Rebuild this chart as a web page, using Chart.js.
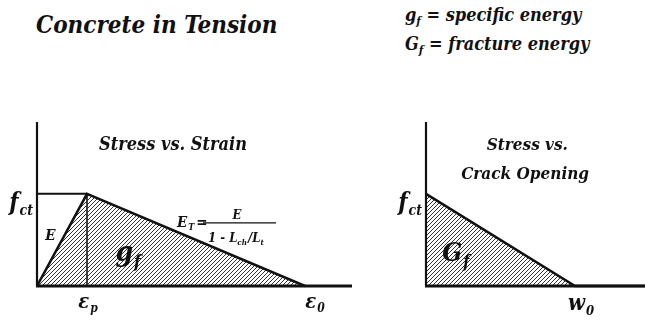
<!DOCTYPE html>
<html><head><meta charset="utf-8">
<script src="https://cdn.jsdelivr.net/npm/chart.js@4.4.0/dist/chart.umd.min.js"></script>
<style>
html,body{margin:0;padding:0;background:#fff;width:645px;height:323px;overflow:hidden}
.t{position:absolute;font-family:"DejaVu Serif Condensed","DejaVu Serif",serif;font-style:italic;font-weight:bold;color:#111;white-space:nowrap;line-height:1}
.t sub{font-size:65%;vertical-align:-0.3em;line-height:0}
#c1{position:absolute;left:0;top:100px}
#c2{position:absolute;left:370px;top:100px}
</style></head><body>
<div class="t" style="left:36px;top:13px;font-size:24px">Concrete in Tension</div>
<div class="t" style="left:405px;top:6px;font-size:18px">g<sub>f</sub> = specific energy</div>
<div class="t" style="left:405px;top:35px;font-size:18px">G<sub>f</sub> = fracture energy</div>
<canvas id="c1" width="370" height="223"></canvas>
<canvas id="c2" width="275" height="223"></canvas>
<script>
// ---- data (stress in units of f_ct, strain in units of eps_p, opening in units of w_0)
const strainValues   = [0, 1, 5.36];      // 0, eps_p, eps_0
const strainStress   = [0, 1, 0];
const plateauX       = [0, 1];
const plateauY       = [1, 1];
const peakDropX      = [1, 1];
const peakDropY      = [1, 0];
const strainAxisMax  = 6.3;
const stressAxisMax  = 1.78;
const strainTickVals = [1, 5.36];
const strainTickText = [['ε','p'], ['ε','0']];
const crackOpening   = [0, 1, 1.47];      // 0, w_0, end of axis
const crackStress    = [1, 0, 0];
const crackAxisMax   = 1.47;
const crackTickVals  = [1];
const crackTickText  = [['w','0']];
const stressTickVals = [1];
const stressTickText = [['f','ct']];

const pts = (xs, ys) => xs.map((x, i) => ({x, y: ys[i]}));
const FONT = '"DejaVu Serif Condensed", "DejaVu Serif", serif';

function hatch(){
  const s = 4, c = document.createElement('canvas');
  c.width = s; c.height = s;
  const g = c.getContext('2d');
  g.strokeStyle = '#333'; g.lineWidth = 1;
  for (const o of [-s, 0, s]) { g.beginPath(); g.moveTo(o - 1, s + 1); g.lineTo(o + s + 1, -1); g.stroke(); }
  return c.getContext('2d').createPattern(c, 'repeat');
}
const pat = hatch();

function sub(ctx, main, s, x, y, size, align){
  ctx.font = 'italic bold ' + size + 'px ' + FONT;
  const w1 = ctx.measureText(main).width;
  ctx.font = 'italic bold ' + Math.round(size*0.6) + 'px ' + FONT;
  const w2 = ctx.measureText(s).width;
  const tot = w1 + w2 + 1;
  let x0 = align === 'right' ? x - tot : align === 'left' ? x : x - tot/2;
  ctx.textAlign = 'left';
  ctx.font = 'italic bold ' + size + 'px ' + FONT;
  ctx.fillText(main, x0, y);
  ctx.font = 'italic bold ' + Math.round(size*0.6) + 'px ' + FONT;
  ctx.fillText(s, x0 + w1 + 1, y + size*0.22);
  return tot;
}
function txt(ctx, t, x, y, size, align){
  ctx.font = 'italic bold ' + size + 'px ' + FONT;
  ctx.textAlign = align || 'center';
  ctx.fillText(t, x, y);
}

function axesPlugin(extra){
  return {
    id: 'axes',
    afterDatasetsDraw(chart){
      const ctx = chart.ctx, xs = chart.scales.x, ys = chart.scales.y, ca = chart.chartArea;
      const x0 = xs.getPixelForValue(0), y0 = ys.getPixelForValue(0);
      ctx.save();
      ctx.strokeStyle = '#111'; ctx.fillStyle = '#111';
      ctx.lineWidth = 2.2;
      ctx.beginPath(); ctx.moveTo(x0, ca.top); ctx.lineTo(x0, y0); ctx.stroke();
      ctx.lineWidth = 3;
      ctx.beginPath(); ctx.moveTo(x0 - 1, y0); ctx.lineTo(ca.right, y0); ctx.stroke();
      stressTickVals.forEach((v, i) => sub(ctx, stressTickText[i][0], stressTickText[i][1], x0 - 4, ys.getPixelForValue(v) + 16, 24, 'right'));
      extra(ctx, xs, ys, y0);
      ctx.restore();
    }
  };
}

function baseOptions(xmax, pad){
  return {
    responsive: false, animation: false, events: [],
    layout: {padding: pad},
    plugins: {legend: {display: false}, tooltip: {enabled: false}},
    scales: {
      x: {type: 'linear', min: 0, max: xmax, display: false},
      y: {type: 'linear', min: 0, max: stressAxisMax, display: false}
    },
    elements: {point: {radius: 0}, line: {tension: 0}}
  };
}

new Chart(document.getElementById('c1'), {
  type: 'scatter',
  data: {datasets: [
    {data: pts(strainValues, strainStress), showLine: true, borderColor: '#111', borderWidth: 2.6, fill: 'origin', backgroundColor: pat, clip: false},
    {data: pts(plateauX, plateauY), showLine: true, borderColor: '#111', borderWidth: 2, fill: false, clip: false},
    {data: pts(peakDropX, peakDropY), showLine: true, borderColor: '#111', borderWidth: 1.6, fill: false, clip: false}
  ]},
  options: baseOptions(strainAxisMax, {left: 37, right: 18, top: 22, bottom: 37}),
  plugins: [axesPlugin((ctx, xs, ys, y0) => {
    const X = v => xs.getPixelForValue(v), Y = v => ys.getPixelForValue(v);
    strainTickVals.forEach((v, i) => sub(ctx, strainTickText[i][0], strainTickText[i][1], X(v) + (i ? 10 : 1), y0 + 22, 20, 'center'));
    txt(ctx, 'Stress vs. Strain', X(2.72), Y(1.48), 18);
    txt(ctx, 'E', X(0.27), Y(0.5), 15);
    sub(ctx, 'g', 'f', X(1.82), Y(0.27), 28, 'center');
    const w = sub(ctx, 'E', 'T', X(2.8), Y(0.64), 15, 'left');
    txt(ctx, '=', X(2.8) + w + 2, Y(0.64), 15, 'left');
    ctx.lineWidth = 1.3;
    ctx.beginPath(); ctx.moveTo(X(3.32), Y(0.685)); ctx.lineTo(X(4.78), Y(0.685)); ctx.stroke();
    txt(ctx, 'E', X(4.0), Y(0.725), 13);
    ctx.font = 'italic bold 13px ' + FONT; ctx.textAlign = 'left';
    const dx = X(3.42), dy = Y(0.48);
    ctx.fillText('1 - L', dx, dy);
    let ww = ctx.measureText('1 - L').width;
    ctx.font = 'italic bold 8px ' + FONT; ctx.fillText('ch', dx + ww, dy + 3);
    ww += ctx.measureText('ch').width;
    ctx.font = 'italic bold 13px ' + FONT; ctx.fillText('/L', dx + ww + 1, dy);
    ww += ctx.measureText('/L').width + 1;
    ctx.font = 'italic bold 8px ' + FONT; ctx.fillText('t', dx + ww, dy + 3);
  })]
});

new Chart(document.getElementById('c2'), {
  type: 'scatter',
  data: {datasets: [
    {data: pts(crackOpening, crackStress), showLine: true, borderColor: '#111', borderWidth: 2.6, fill: 'origin', backgroundColor: pat, clip: false}
  ]},
  options: baseOptions(crackAxisMax, {left: 56, right: 0, top: 22, bottom: 37}),
  plugins: [axesPlugin((ctx, xs, ys, y0) => {
    const X = v => xs.getPixelForValue(v), Y = v => ys.getPixelForValue(v);
    crackTickVals.forEach((v, i) => sub(ctx, crackTickText[i][0], crackTickText[i][1], X(v) + 6, y0 + 24, 22, 'center'));
    txt(ctx, 'Stress vs.', X(0.68), Y(1.48), 17);
    txt(ctx, 'Crack Opening', X(0.665), Y(1.16), 17);
    sub(ctx, 'G', 'f', X(0.2), Y(0.27), 26, 'center');
  })]
});
</script>
</body></html>
